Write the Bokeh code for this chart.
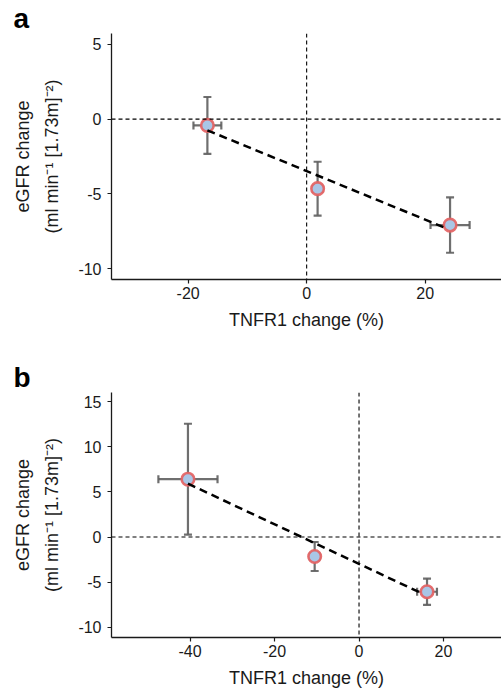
from bokeh.plotting import figure
from bokeh.models import (ColumnDataSource, Whisker, TeeHead, Span, FixedTicker,
                          LinearAxis, Range1d)
from bokeh.layouts import column
from bokeh.embed import file_html
from bokeh.resources import INLINE

# ---- data ----
a_x = [-16.75, 1.85, 24.2]
a_y = [-0.42, -4.65, -7.09]
a_xerr = [2.35, 0.8, 3.3]
a_yerr = [1.9, 1.8, 1.85]
a_fit_x = [-16.75, 23.73]
a_fit_y = [-0.75, -7.33]
a_xticks = [-20, 0, 20]
a_yticks = [-10, -5, 0, 5]

b_x = [-40.5, -10.5, 16.1]
b_y = [6.42, -2.16, -6.07]
b_xerr = [7.0, 1.15, 2.35]
b_yerr = [6.15, 1.61, 1.46]
b_fit_x = [-40.5, 14.96]
b_fit_y = [5.92, -6.27]
b_xticks = [-40, -20, 0, 20]
b_yticks = [-10, -5, 0, 5, 10, 15]

x_title = "TNFR1 change (%)"
y_title_1 = "eGFR change"
y_title_2 = "(ml min\u207b\u00b9 [1.73m]\u207b\u00b2)"

FONT = "Liberation Sans"
TXT = "#1a1a1a"


def make_panel(letter, x, y, xerr, yerr, fit_x, fit_y, xr, yr, xticks, yticks,
               height, top, bottom):
    p = figure(width=501, height=height, output_backend="svg", toolbar_location=None,
               x_range=Range1d(*xr), y_range=Range1d(*yr),
               min_border_left=111, min_border_right=0,
               min_border_top=top, min_border_bottom=bottom,
               outline_line_color=None, background_fill_color="white")
    p.grid.visible = False

    p.title.text = letter
    p.title.align = "left"
    p.title.offset = -98
    p.title.standoff = 0
    p.title.text_line_height = 0.7
    p.title.text_font = FONT
    p.title.text_font_size = "28px"
    p.title.text_font_style = "bold"
    p.title.text_color = "black"

    for ax in (p.xaxis[0], p.yaxis[0]):
        ax.axis_line_width = 1.3
        ax.axis_line_color = TXT
        ax.major_tick_line_color = TXT
        ax.major_tick_line_width = 1.2
        ax.major_tick_out = 4
        ax.major_tick_in = 0
        ax.minor_tick_line_color = None
        ax.major_label_text_font = FONT
        ax.major_label_text_font_size = "16px"
        ax.major_label_text_color = TXT
        ax.axis_label_text_font = FONT
        ax.axis_label_text_font_size = "18px"
        ax.axis_label_text_font_style = "normal"
        ax.axis_label_text_color = TXT
    p.xaxis[0].ticker = FixedTicker(ticks=xticks)
    p.yaxis[0].ticker = FixedTicker(ticks=yticks)
    p.xaxis[0].major_label_overrides = {t: str(t) for t in xticks}
    p.yaxis[0].major_label_overrides = {t: str(t) for t in yticks}
    p.xaxis[0].major_label_standoff = 3
    p.yaxis[0].major_label_standoff = 6
    p.xaxis[0].axis_label = x_title
    p.xaxis[0].axis_label_standoff = 8
    p.yaxis[0].axis_label = y_title_2
    p.yaxis[0].axis_label_standoff = 13

    outer = LinearAxis(axis_label=y_title_1, ticker=FixedTicker(ticks=[]),
                       axis_line_color=None, major_tick_line_color=None,
                       minor_tick_line_color=None, major_label_text_font_size="0px",
                       major_tick_out=0, major_tick_in=0, major_label_standoff=0,
                       axis_label_standoff=7, axis_label_text_font=FONT,
                       axis_label_text_font_size="18px",
                       axis_label_text_font_style="normal", axis_label_text_color=TXT)
    p.add_layout(outer, "left")

    p.add_layout(Span(location=0, dimension="width", line_color="black",
                      line_width=1.1, line_dash="4 3"))
    p.add_layout(Span(location=0, dimension="height", line_color="black",
                      line_width=1.1, line_dash="4 3"))

    src = ColumnDataSource(dict(
        x=x, y=y,
        xlo=[a - e for a, e in zip(x, xerr)], xhi=[a + e for a, e in zip(x, xerr)],
        ylo=[a - e for a, e in zip(y, yerr)], yhi=[a + e for a, e in zip(y, yerr)],
    ))

    p.scatter("x", "y", source=src, size=12.5, fill_color="#a9c6e6",
              line_color="#e45f5f", line_width=2.6, line_alpha=0.9)

    ecol = "#5f5f5f"
    for w in (
        Whisker(base="x", lower="ylo", upper="yhi", dimension="height", source=src),
        Whisker(base="y", lower="xlo", upper="xhi", dimension="width", source=src),
    ):
        w.line_color = ecol
        w.line_width = 2.2
        w.line_alpha = 0.9
        w.upper_head = TeeHead(size=8, line_color=ecol, line_width=2.2, line_alpha=0.9)
        w.lower_head = TeeHead(size=8, line_color=ecol, line_width=2.2, line_alpha=0.9)
        p.add_layout(w)

    p.line(fit_x, fit_y, line_color="black", line_width=2.5, line_dash="8 5")
    return p


pa = make_panel("a", a_x, a_y, a_xerr, a_yerr, a_fit_x, a_fit_y,
                (-32.93, 32.88), (-10.73, 5.73), a_xticks, a_yticks,
                345, 32, 66)
pb = make_panel("b", b_x, b_y, b_xerr, b_yerr, b_fit_x, b_fit_y,
                (-58.6, 33.73), (-11.15, 16.04), b_xticks, b_yticks,
                345, 47, 52)

layout = column(pa, pb, spacing=0)
open("out.html", "w").write(file_html(layout, INLINE))
